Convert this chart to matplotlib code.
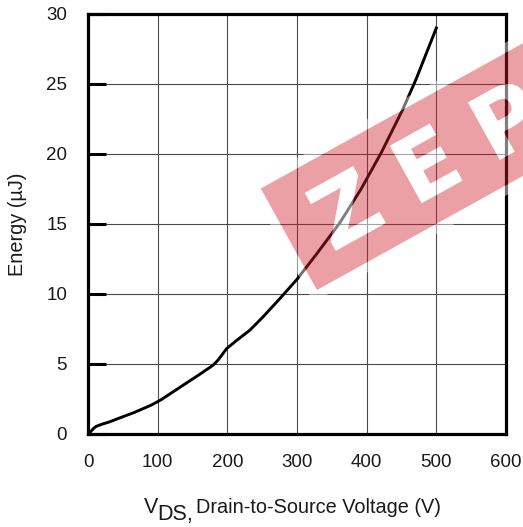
import matplotlib
matplotlib.use('Agg')
import matplotlib.pyplot as plt
from matplotlib.textpath import TextPath
from matplotlib.font_manager import FontProperties
from matplotlib.patches import PathPatch
from matplotlib.path import Path
from matplotlib.transforms import Affine2D, IdentityTransform

# ---- data ----
vds = [0, 3, 8, 12, 20, 30, 43, 67, 91, 105, 137, 160, 180, 187, 193, 199,
       215, 232, 250, 275, 300, 328, 361, 392, 421, 452, 471, 500]
energy = [0, 0.12, 0.4, 0.55, 0.7, 0.85, 1.1, 1.55, 2.07, 2.45, 3.5, 4.25,
          4.93, 5.3, 5.7, 6.1, 6.75, 7.4, 8.3, 9.65, 11.05, 12.85, 15.05,
          17.5, 20.1, 23.2, 25.35, 29.0]
x_ticks = [0, 100, 200, 300, 400, 500, 600]
y_ticks = [0, 5, 10, 15, 20, 25, 30]
watermark_letters = ['Z', 'E', 'P']

plt.rcParams['font.family'] = ['Liberation Sans', 'DejaVu Sans']

W, H = 523, 527
fig = plt.figure(figsize=(W / 100, H / 100), dpi=100)
ax = fig.add_axes([88 / W, 1 - 434 / H, (506 - 88) / W, (434 - 14) / H])

ax.plot(vds, energy, color='black', lw=2.1, zorder=3)
ax.set_xlim(0, 600)
ax.set_ylim(0, 30)
ax.set_xticks(x_ticks)
ax.set_yticks(y_ticks)
ax.grid(True, color='#4a4a4a', lw=0.8)
for s in ax.spines.values():
    s.set_linewidth(2.3)
    s.set_color('black')
ax.tick_params(axis='x', length=0, pad=14.4, labelsize=13.5, labelcolor='#1a1a1a')
ax.tick_params(axis='y', direction='in', length=13, width=2.2, pad=15,
               labelsize=13.5, labelcolor='#1a1a1a')

# y label
fig.text(18 / W, 1 - 224 / H, 'Energy (µJ)', rotation=90, ha='center',
         va='center', fontsize=14.3, color='#1a1a1a')
# x label in pieces (V, DS subscript, rest)
fig.text(144 / W, 1 - 513 / H, 'V', ha='left', va='baseline', fontsize=15.5,
         color='#1a1a1a')
fig.text(157 / W, 1 - 520 / H, 'DS,', ha='left', va='baseline', fontsize=15.5,
         color='#1a1a1a')
fig.text(196 / W, 1 - 513 / H, 'Drain-to-Source Voltage (V)', ha='left',
         va='baseline', fontsize=14.3, color='#1a1a1a')

# ---- watermark ----
ang = 29
B = (317, 237)
rw, rh = 420, 116
tr = Affine2D().rotate_deg(ang).translate(*B)

def rect_path(x0, y0, w, h, ccw=True):
    v = [(x0, y0), (x0 + w, y0), (x0 + w, y0 + h), (x0, y0 + h), (x0, y0)]
    if not ccw:
        v = v[::-1]
    return Path(v, [Path.MOVETO, Path.LINETO, Path.LINETO, Path.LINETO, Path.CLOSEPOLY])

fp = FontProperties(family='DejaVu Sans', weight='bold')
centers_u = [64, 157, 250]
letter_paths = []
for ch, cu in zip(watermark_letters, centers_u):
    tp = TextPath((0, 0), ch, size=90, prop=fp)
    ext = tp.get_extents()
    cx = (ext.x0 + ext.x1) / 2
    cy = (ext.y0 + ext.y1) / 2
    p = Affine2D().translate(cu - cx, rh / 2 - cy).transform_path(tp)
    letter_paths.append(p)

halo = Path.make_compound_path(rect_path(-9, -9, rw + 18, rh + 18, True),
                               rect_path(0, 0, rw, rh, False))
fig.add_artist(PathPatch(tr.transform_path(halo), facecolor='white', alpha=0.45,
                         edgecolor='none', transform=IdentityTransform(), zorder=5))
red = Path.make_compound_path(rect_path(0, 0, rw, rh, True), *letter_paths)
fig.add_artist(PathPatch(tr.transform_path(red), facecolor=(205/255, 29/255, 40/255),
                         alpha=0.42, edgecolor='none', transform=IdentityTransform(),
                         zorder=6))
letters = Path.make_compound_path(*letter_paths)
fig.add_artist(PathPatch(tr.transform_path(letters), facecolor='white', alpha=0.5,
                         edgecolor='none', transform=IdentityTransform(), zorder=7))

fig.savefig('out.png', dpi=100)
